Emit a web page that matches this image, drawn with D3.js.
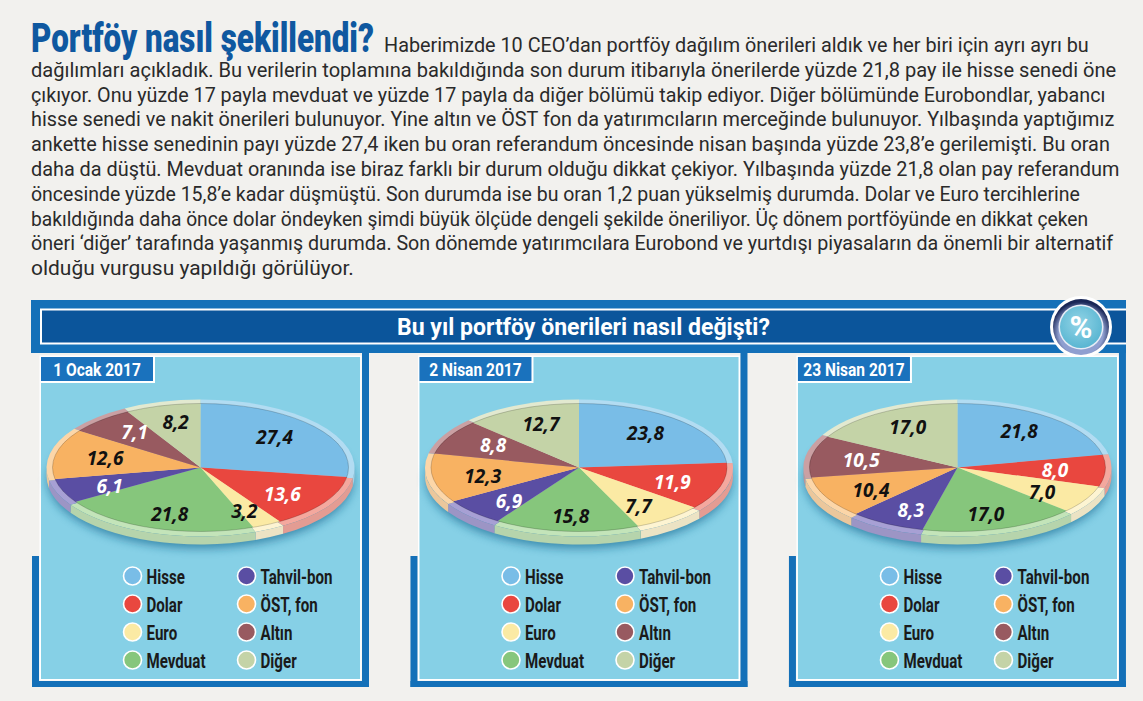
<!DOCTYPE html>
<html><head><meta charset="utf-8">
<script src="https://cdn.jsdelivr.net/npm/d3@7"></script>
<style>
body{margin:0;background:#f2f1ee;}
svg{display:block}
</style>
</head><body>
<svg id="chart" width="1143" height="701"></svg>
<script>
// ---------------- DATA ----------------
const categories = ["Hisse","Dolar","Euro","Mevduat","Tahvil-bon","ÖST, fon","Altın","Diğer"];
const periods = ["1 Ocak 2017","2 Nisan 2017","23 Nisan 2017"];
const valuesJan1  = [27.4, 13.6, 3.2, 21.8, 6.1, 12.6, 7.1, 8.2];
const valuesApr2  = [23.8, 11.9, 7.7, 15.8, 6.9, 12.3, 8.8, 12.7];
const valuesApr23 = [21.8, 8.0, 7.0, 17.0, 8.3, 10.4, 10.5, 17.0];
const headline = "Portföy nasıl şekillendi?";
const bannerTitle = "Bu yıl portföy önerileri nasıl değişti?";
const bodyLines = [
  "Haberimizde 10 CEO’dan portföy dağılım önerileri aldık ve her biri için ayrı ayrı bu",
  "dağılımları açıkladık. Bu verilerin toplamına bakıldığında son durum itibarıyla önerilerde yüzde 21,8 pay ile hisse senedi öne",
  "çıkıyor. Onu yüzde 17 payla mevduat ve yüzde 17 payla da diğer bölümü takip ediyor. Diğer bölümünde Eurobondlar, yabancı",
  "hisse senedi ve nakit önerileri bulunuyor. Yine altın ve ÖST fon da yatırımcıların merceğinde bulunuyor. Yılbaşında yaptığımız",
  "ankette hisse senedinin payı yüzde 27,4 iken bu oran referandum öncesinde nisan başında yüzde 23,8’e gerilemişti. Bu oran",
  "daha da düştü. Mevduat oranında ise biraz farklı bir durum olduğu dikkat çekiyor. Yılbaşında yüzde 21,8 olan pay referandum",
  "öncesinde yüzde 15,8’e kadar düşmüştü. Son durumda ise bu oran 1,2 puan yükselmiş durumda. Dolar ve Euro tercihlerine",
  "bakıldığında daha önce dolar öndeyken şimdi büyük ölçüde dengeli şekilde öneriliyor. Üç dönem portföyünde en dikkat çeken",
  "öneri ‘diğer’ tarafında yaşanmış durumda. Son dönemde yatırımcılara Eurobond ve yurtdışı piyasaların da önemli bir alternatif",
  "olduğu vurgusu yapıldığı görülüyor."
];
const panelValues = [valuesJan1, valuesApr2, valuesApr23];

// ---------------- STYLE / LAYOUT ----------------
const baseColors  = ["#79bde7","#e9473f","#fbeaa4","#86c67c","#5a4ea3","#f8b262","#985a60","#c4d3a7"];
const lightColors = ["#b2dcf2","#f4a89e","#fdf4d2","#c3e4b9","#a7a0d4","#fcd6a8","#caa0a3","#e2e9d0"];
const whiteLabel  = ["Dolar","Tahvil-bon","Altın"];
const lineEnds = [1089, 1117, 1106, 1115, 1110, 1120, 1080, 1089, 1114, 354];

const svg = d3.select("#chart");
const defs = svg.append("defs");
defs.append("filter").attr("id","blur").attr("x","-20%").attr("y","-40%").attr("width","140%").attr("height","180%")
  .append("feGaussianBlur").attr("stdDeviation",5);
const g1 = defs.append("radialGradient").attr("id","pctGrad").attr("cx","45%").attr("cy","40%").attr("r","60%");
g1.append("stop").attr("offset","0%").attr("stop-color","#92d4e6");
g1.append("stop").attr("offset","100%").attr("stop-color","#5ab6d2");
const g2 = defs.append("radialGradient").attr("id","ringGrad").attr("cx","50%").attr("cy","60%").attr("r","55%");
g2.append("stop").attr("offset","72%").attr("stop-color","#8f9fd0");
g2.append("stop").attr("offset","100%").attr("stop-color","#1a2756");

svg.append("rect").attr("width",1143).attr("height",701).attr("fill","#f2f1ee");

const numFmt = d3.formatLocale({decimal:",", thousands:".", grouping:[3], currency:["","₺"]}).format(".1f");
const color = d3.scaleOrdinal(categories, baseColors);
const light = d3.scaleOrdinal(categories, lightColors);

// horizontally condense a text so its width equals w, anchored at (x,y)
function fitText(parent, x, y, w, anchor, attrs, str){
  const t = parent.append("text").attr("x",0).attr("y",0).attr("text-anchor",anchor||"start");
  Object.entries(attrs).forEach(([k,v])=>t.attr(k,v));
  t.text(str);
  const nat = t.node().getComputedTextLength();
  const k = w / nat;
  t.attr("transform",`translate(${x},${y}) scale(${k},1)`);
  return t;
}

// ---------------- HEADER TEXT ----------------
fitText(svg, 31, 52, 343, "start",
  {"font-family":"Roboto, 'Open Sans', sans-serif","font-weight":900,"font-size":40,"fill":"#0f58a0"}, headline);

const bodyY = d3.scaleLinear().domain([0,1]).range([52,76.8]);
bodyLines.forEach((t,i)=>{
  const x0 = i===0 ? 384 : 31;
  fitText(svg, x0, bodyY(i), lineEnds[i]-x0, "start",
    {"font-family":"Roboto, sans-serif","font-weight":400,"font-size":21,"fill":"#2a2a2a"}, t);
});

// ---------------- BANNER ----------------
svg.append("rect").attr("x",31).attr("y",300).attr("width",1095).attr("height",53).attr("fill","#1470b8");
svg.append("rect").attr("x",40).attr("y",308.5).attr("width",1086).attr("height",36).attr("fill","#ffffff");
svg.append("rect").attr("x",42).attr("y",310.5).attr("width",1084).attr("height",32).attr("fill","#0b559b");
fitText(svg, 397, 335, 373, "start",
  {"font-family":"Roboto, sans-serif","font-weight":700,"font-size":24,"fill":"#ffffff"}, bannerTitle);

// % icon
const pc = svg.append("g").attr("transform","translate(1081,327)");
pc.append("circle").attr("r",31).attr("fill","#ffffff");
pc.append("circle").attr("r",28).attr("fill","url(#ringGrad)");
pc.append("circle").attr("r",22.5).attr("fill","#e6ecf6");
pc.append("circle").attr("r",21).attr("fill","url(#pctGrad)");
pc.append("text").attr("y",11).attr("text-anchor","middle")
  .attr("font-family","Roboto, sans-serif").attr("font-weight",700).attr("font-size",31)
  .attr("fill","#ffffff").text("%");

// ---------------- PANELS ----------------
const panelX = d3.scaleBand().domain(periods).range([41,1117]).paddingInner(0.157).paddingOuter(0);
const pie = d3.pie().sort(null).value(d=>d);
const panelTop = 357, panelBottom = 679;
const pieCy = 468, rx = 154, ry = 68.5, depth = 8, rim = 6;

periods.forEach((p, pi)=>{
  const x0 = panelX(p), w = panelX.bandwidth();
  const cx = x0 + w/2;
  const g = svg.append("g");
  // frame
  g.append("rect").attr("x",x0+321).attr("y",353).attr("width",7).attr("height",334).attr("fill","#1470b8");
  g.append("rect").attr("x",x0-9).attr("y",681).attr("width",337).attr("height",6).attr("fill","#1470b8");
  g.append("rect").attr("x",x0-9).attr("y",556).attr("width",7).attr("height",131).attr("fill","#1470b8");
  g.append("rect").attr("x",x0-1.5).attr("y",panelTop-1.5).attr("width",w+3).attr("height",panelBottom-panelTop+3).attr("fill","#ffffff");
  g.append("rect").attr("x",x0).attr("y",panelTop).attr("width",w).attr("height",panelBottom-panelTop).attr("fill","#86d0e6");
  // period label
  g.append("rect").attr("x",x0).attr("y",panelTop).attr("width",114).attr("height",26).attr("fill","#ffffff");
  g.append("rect").attr("x",x0).attr("y",panelTop).attr("width",112).attr("height",24).attr("fill","#1a72bd");
  const probe = g.append("text").attr("font-family","Roboto, sans-serif").attr("font-weight",700)
    .attr("font-size",18.5).text(p);
  const nat = probe.node().getComputedTextLength(); probe.remove();
  fitText(g, x0+56, panelTop+19, nat*0.84, "middle",
    {"font-family":"Roboto, sans-serif","font-weight":700,"font-size":18.5,"fill":"#ffffff"}, p);

  const arcs = pie(panelValues[pi]);
  // shadow
  g.append("ellipse").attr("cx",cx).attr("cy",pieCy+12).attr("rx",rx-1).attr("ry",ry)
    .attr("fill","#17668f").attr("opacity",0.65).attr("filter","url(#blur)");
  // side
  const P = (a, yOff, rxx, ryy) => [cx + rxx*Math.sin(a), pieCy + yOff - ryy*Math.cos(a)];
  arcs.forEach((a,i)=>{
    const s = Math.max(a.startAngle, Math.PI/2), e = Math.min(a.endAngle, 3*Math.PI/2);
    if (s >= e) return;
    const t0 = P(s,0,rx,ry), t1 = P(e,0,rx,ry), b0 = P(s,depth,rx,ry), b1 = P(e,depth,rx,ry);
    const d = `M${t0}A${rx},${ry} 0 0 1 ${t1}L${b1}A${rx},${ry} 0 0 0 ${b0}Z`;
    g.append("path").attr("d",d).attr("fill",d3.color(light(categories[i])).darker(0.2));
  });
  // rim (outer top)
  const outer = g.append("g").attr("transform",`translate(${cx},${pieCy}) scale(1,${ry/rx})`);
  const arcOuter = d3.arc().innerRadius(0).outerRadius(rx);
  outer.selectAll("path").data(arcs).join("path").attr("d",arcOuter)
    .attr("fill",(d,i)=>light(categories[i]));
  // inner top
  const irx = rx - rim, iry = ry - 4.5;
  const inner = g.append("g").attr("transform",`translate(${cx},${pieCy-0.5}) scale(1,${iry/irx})`);
  const arcInner = d3.arc().innerRadius(0).outerRadius(irx);
  inner.selectAll("path").data(arcs).join("path").attr("d",arcInner)
    .attr("fill",(d,i)=>color(categories[i]));
  g.append("ellipse").attr("cx",cx).attr("cy",pieCy-0.5).attr("rx",irx).attr("ry",iry)
    .attr("fill","none").attr("stroke","rgba(0,0,0,0.18)").attr("stroke-width",1);
  // value labels
  arcs.forEach((a,i)=>{
    const m = (a.startAngle + a.endAngle)/2;
    const [lx, ly] = P(m, 0, irx*0.66, iry*0.75);
    g.append("text").attr("x",lx).attr("y",ly+7).attr("text-anchor","middle")
      .attr("font-family","'Open Sans', 'Noto Sans', sans-serif").attr("font-weight",700).attr("font-style","italic")
      .attr("font-size",19).attr("fill", whiteLabel.includes(categories[i]) ? "#ffffff" : "#111111")
      .text(numFmt(a.data));
  });

  // legend
  const legY = d3.scalePoint().domain([0,1,2,3]).range([576,660]);
  const legend = g.append("g");
  categories.forEach((c,i)=>{
    const col = Math.floor(i/4), row = i%4;
    const lx = cx + (col===0 ? -68 : 46);
    legend.append("circle").attr("cx",lx).attr("cy",legY(row)).attr("r",9)
      .attr("fill",color(c)).attr("stroke","#ffffff").attr("stroke-width",1.6);
    legend.append("text").attr("transform",`translate(${lx+14},${legY(row)+7.5}) scale(0.72,1)`)
      .attr("font-family","Roboto, sans-serif").attr("font-weight",700).attr("font-size",21)
      .attr("fill","#1a1a1a").text(c);
  });
});
</script>
</body></html>
